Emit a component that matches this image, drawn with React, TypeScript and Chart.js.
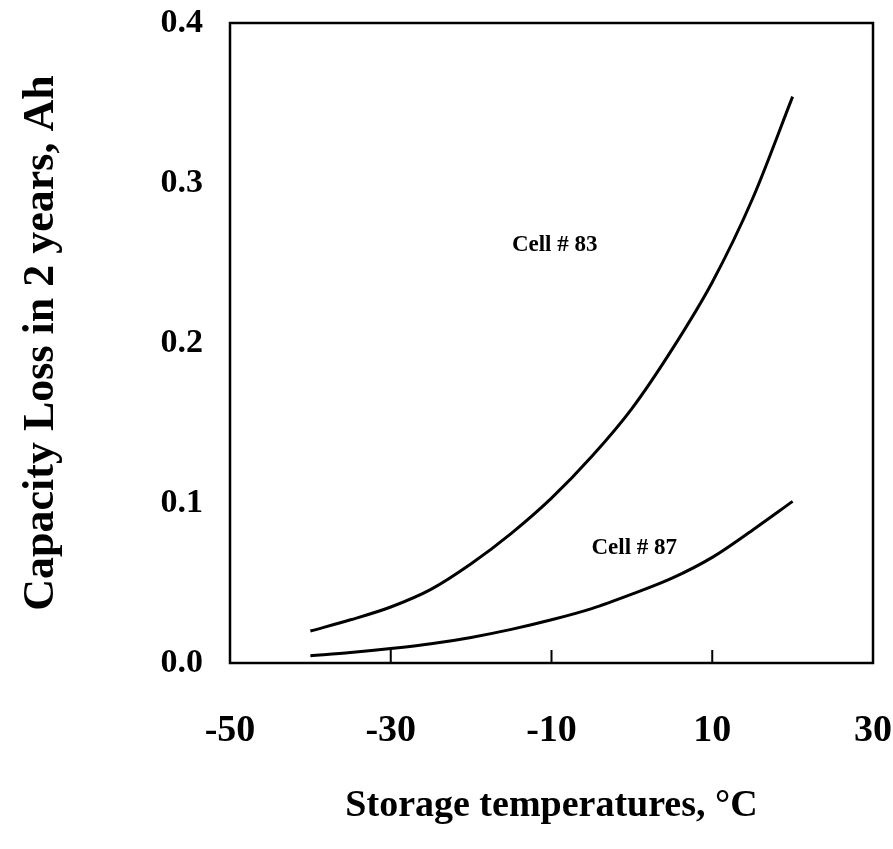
import React, { useEffect, useRef } from "react";
import { Chart, registerables } from "chart.js";
Chart.register(...registerables);

const temperatures = [-40, -35, -30, -25, -20, -15, -10, -5, 0, 5, 10, 15, 20];
const cell83 = [0.020, 0.027, 0.035, 0.046, 0.062, 0.081, 0.103, 0.129, 0.159, 0.196, 0.238, 0.290, 0.354];
const cell87 = [0.0045, 0.0065, 0.009, 0.012, 0.016, 0.021, 0.027, 0.034, 0.043, 0.053, 0.066, 0.083, 0.101];
const xTicks = [-50, -30, -10, 10, 30];
const yTicks = [0.0, 0.1, 0.2, 0.3, 0.4];
const labelTexts = ["Cell # 83", "Cell # 87"];
const labelX = [-9.6, 0.3];
const labelY = [0.261, 0.072];

const SERIF = '"Liberation Serif", "Times New Roman", serif';

const framePlugin = {
  id: "frame",
  afterDatasetsDraw(chart: any) {
    const { ctx, chartArea, scales } = chart;
    const { left, right, top, bottom } = chartArea;
    const x = scales.x;
    const y = scales.y;
    ctx.save();
    ctx.strokeStyle = "#000";
    ctx.lineWidth = 2.5;
    ctx.strokeRect(left, top, right - left, bottom - top);
    ctx.lineWidth = 2;
    ctx.beginPath();
    xTicks
      .filter((v) => v > x.min && v < x.max)
      .forEach((v) => {
        const px = x.getPixelForValue(v);
        ctx.moveTo(px, bottom);
        ctx.lineTo(px, bottom - 13);
      });
    ctx.stroke();
    ctx.fillStyle = "#000";
    ctx.font = `bold 23px ${SERIF}`;
    ctx.textAlign = "center";
    ctx.textBaseline = "middle";
    labelTexts.forEach((t, i) => {
      ctx.fillText(t, x.getPixelForValue(labelX[i]), y.getPixelForValue(labelY[i]));
    });
    ctx.restore();
  },
};

const noPad = (s: any) => {
  s.paddingLeft = 0;
  s.paddingRight = 0;
  s.paddingTop = 0;
  s.paddingBottom = 0;
};

export default function App() {
  const ref = useRef<HTMLCanvasElement>(null);
  useEffect(() => {
    if (!ref.current) return;
    const chart = new Chart(ref.current, {
      type: "line",
      data: {
        datasets: [
          {
            label: "Cell # 83",
            data: temperatures.map((t, i) => ({ x: t, y: cell83[i] })),
            borderColor: "#000",
            borderWidth: 3,
            pointRadius: 0,
            cubicInterpolationMode: "monotone",
            fill: false,
          },
          {
            label: "Cell # 87",
            data: temperatures.map((t, i) => ({ x: t, y: cell87[i] })),
            borderColor: "#000",
            borderWidth: 3,
            pointRadius: 0,
            cubicInterpolationMode: "monotone",
            fill: false,
          },
        ],
      },
      options: {
        animation: false,
        responsive: false,
        layout: { padding: { top: 23, right: 20, left: 0, bottom: 0 } },
        plugins: {
          legend: { display: false },
          tooltip: { enabled: false },
        },
        scales: {
          x: {
            type: "linear",
            min: -50,
            max: 30,
            afterBuildTicks: (s: any) => {
              s.ticks = xTicks.map((v) => ({ value: v }));
            },
            afterFit: (s: any) => {
              s.height = 186;
              noPad(s);
            },
            grid: { display: false, drawTicks: false },
            border: { display: false },
            ticks: {
              color: "#000",
              padding: 45,
              maxRotation: 0,
              font: { family: SERIF, size: 38, weight: "bold" },
              callback: (v: any) => String(v),
            },
            title: {
              display: true,
              text: "Storage temperatures, °C",
              color: "#000",
              padding: { top: 0, bottom: 20 },
              font: { family: SERIF, size: 38, weight: "bold" },
            },
          },
          y: {
            type: "linear",
            min: 0,
            max: 0.4,
            afterBuildTicks: (s: any) => {
              s.ticks = yTicks.map((v) => ({ value: v }));
            },
            afterFit: (s: any) => {
              s.width = 230;
              noPad(s);
            },
            grid: { display: false, drawTicks: false },
            border: { display: false },
            ticks: {
              color: "#000",
              padding: 27,
              font: { family: SERIF, size: 34, weight: "bold" },
              callback: (v: any) => Number(v).toFixed(1),
            },
            title: {
              display: true,
              text: "Capacity Loss in 2 years, Ah",
              color: "#000",
              padding: { top: 15, bottom: 0 },
              font: { family: SERIF, size: 44, weight: "bold" },
            },
          },
        },
      },
      plugins: [framePlugin],
    } as any);
    return () => chart.destroy();
  }, []);
  return (
    <div style={{ position: "absolute", left: 0, top: 0, width: 893, height: 849, background: "#fff" }}>
      <canvas ref={ref} width={893} height={849} style={{ width: 893, height: 849, display: "block" }} />
    </div>
  );
}
